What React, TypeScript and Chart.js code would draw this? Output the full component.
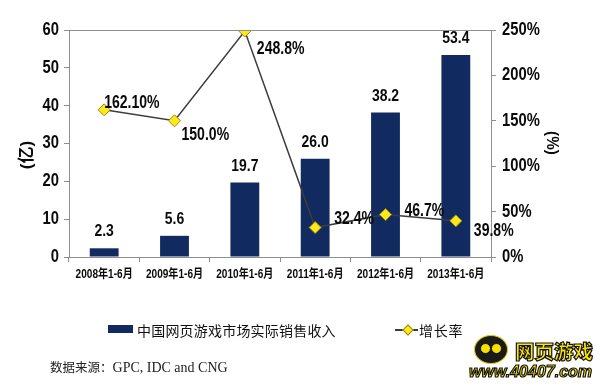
import React, { useEffect, useRef } from "react";
import { Chart, registerables } from "chart.js";

Chart.register(...registerables);

const categories = ["2008年1-6月", "2009年1-6月", "2010年1-6月", "2011年1-6月", "2012年1-6月", "2013年1-6月"];
const revenue = [2.3, 5.6, 19.7, 26.0, 38.2, 53.4];
const growth = [162.1, 150.0, 248.8, 32.4, 46.7, 39.8];
const growthLabels = ["162.10%", "150.0%", "248.8%", "32.4%", "46.7%", "39.8%"];
const revenueName = "中国网页游戏市场实际销售收入";
const growthName = "增长率";
const leftTitle = "(亿)";
const rightTitle = "(%)";
const sourceText = "数据来源：";
const sourceLatin = "GPC, IDC and CNG";
const logoCn = "网页游戏";
const logoUrl = "www.40407.com";

// label placement offsets (layout only)
const growthLabelOffsets = [
  [0, -7],
  [7, 14],
  [12, 18],
  [19, -9],
  [19, -4],
  [18, 10],
];

const NAVY = "#112a5f";
const AXIS = "#8e8e8e";
const SANS = "'Liberation Sans', Arial, 'Noto Sans CJK SC', sans-serif";
const SX = 0.82;

function narrowText(ctx: any, text: string, x: number, y: number, align: string, sx: number, rot = 0) {
  ctx.save();
  ctx.translate(x, y);
  if (rot) ctx.rotate(rot);
  ctx.scale(sx, 1);
  ctx.textAlign = align;
  ctx.textBaseline = "middle";
  ctx.fillText(text, 0, 0);
  ctx.restore();
}

const labelsPlugin = {
  id: "customLabels",
  afterDraw(chart: any) {
    const ctx = chart.ctx;
    const area = chart.chartArea;
    ctx.save();
    // top frame line
    ctx.strokeStyle = AXIS;
    ctx.lineWidth = 1;
    ctx.beginPath();
    ctx.moveTo(area.left, area.top + 0.5);
    ctx.lineTo(area.right, area.top + 0.5);
    ctx.stroke();

    ctx.fillStyle = "#0a0a0a";
    // tick labels
    const sy = chart.scales.y;
    ctx.font = `bold 18px ${SANS}`;
    sy.ticks.forEach((t: any) => {
      narrowText(ctx, String(t.value), 59, sy.getPixelForValue(t.value), "right", SX);
    });
    const sy1 = chart.scales.y1;
    sy1.ticks.forEach((t: any) => {
      narrowText(ctx, t.value + "%", 502, sy1.getPixelForValue(t.value), "left", SX);
    });
    const sxs = chart.scales.x;
    ctx.font = `bold 12px ${SANS}`;
    categories.forEach((c, i) => {
      narrowText(ctx, c, sxs.getPixelForValue(i), 274.5, "center", 0.84);
    });

    // bar labels
    const barMeta = chart.getDatasetMeta(1);
    ctx.font = `bold 17px ${SANS}`;
    barMeta.data.forEach((el: any, i: number) => {
      narrowText(ctx, revenue[i].toFixed(1), el.x, el.y - 16.5, "center", SX);
    });
    // line labels
    const lineMeta = chart.getDatasetMeta(0);
    ctx.font = `bold 18px ${SANS}`;
    lineMeta.data.forEach((el: any, i: number) => {
      const [dx, dy] = growthLabelOffsets[i];
      narrowText(ctx, growthLabels[i], el.x + dx, el.y + dy, "left", 0.78);
    });

    // axis titles
    ctx.font = `bold 17px ${SANS}`;
    narrowText(ctx, leftTitle, 27, 155, "center", 1, -Math.PI / 2);
    narrowText(ctx, rightTitle, 552, 143, "center", 0.9, Math.PI / 2);
    ctx.restore();
  },
};

export default function App() {
  const ref = useRef<HTMLCanvasElement>(null);
  useEffect(() => {
    document.body.style.margin = "0";
    const chart = new Chart(ref.current as HTMLCanvasElement, {
      type: "bar",
      data: {
        labels: categories,
        datasets: [
          {
            type: "line",
            label: growthName,
            data: growth,
            yAxisID: "y1",
            borderColor: "#3c3c3c",
            borderWidth: 1.5,
            pointStyle: "rectRot",
            pointRadius: 6,
            pointBackgroundColor: "#ffe81a",
            pointBorderColor: "#9a8a10",
            pointBorderWidth: 1,
            order: 0,
          } as any,
          {
            type: "bar",
            label: revenueName,
            data: revenue,
            yAxisID: "y",
            backgroundColor: NAVY,
            categoryPercentage: 1,
            barPercentage: 0.41,
            order: 1,
          },
        ],
      },
      options: {
        responsive: false,
        animation: false,
        devicePixelRatio: 1,
        layout: { padding: { top: 30, left: 0, right: 0, bottom: 0 } },
        plugins: { legend: { display: false }, tooltip: { enabled: false } },
        scales: {
          x: {
            offset: true,
            grid: { offset: true, drawOnChartArea: false, color: AXIS, tickLength: 5 },
            border: { color: AXIS },
            ticks: { display: false },
            afterFit: (s: any) => { s.height = 131; },
          },
          y: {
            position: "left",
            min: 0,
            max: 60,
            ticks: { stepSize: 10, display: false },
            grid: { drawOnChartArea: false, color: AXIS, tickLength: 5 },
            border: { color: AXIS },
            afterFit: (s: any) => { s.width = 69; },
          },
          y1: {
            position: "right",
            min: 0,
            max: 250,
            ticks: { stepSize: 50, display: false },
            grid: { drawOnChartArea: false, color: AXIS, tickLength: 5 },
            border: { color: AXIS },
            afterFit: (s: any) => { s.width = 109; },
          },
        },
      },
      plugins: [labelsPlugin],
    });
    return () => chart.destroy();
  }, []);

  const cjk = "'Noto Sans CJK SC', sans-serif";
  const logoText = {
    position: "absolute" as const,
    color: "#ffe600",
    WebkitTextStroke: "1.2px #111",
    whiteSpace: "nowrap" as const,
    transformOrigin: "left top",
  };
  return (
    <div style={{ position: "fixed", left: 0, top: 0, width: 600, height: 388, background: "#fff", overflow: "hidden" }}>
      <canvas ref={ref} width={600} height={388} style={{ display: "block" }} />
      <div style={{ position: "absolute", left: 108, top: 325, width: 25, height: 8, background: NAVY }} />
      <div style={{ position: "absolute", left: 137, top: 320, fontFamily: cjk, fontSize: 14, lineHeight: "20px", color: "#111", whiteSpace: "nowrap", letterSpacing: 0.2 }}>{revenueName}</div>
      <div style={{ position: "absolute", left: 395, top: 329, width: 23, height: 1.5, background: "#3c3c3c" }} />
      <div style={{ position: "absolute", left: 404, top: 326, width: 6, height: 6, background: "#ffe81a", border: "1px solid #9a8a10", transform: "rotate(45deg)" }} />
      <div style={{ position: "absolute", left: 419, top: 320, fontFamily: cjk, fontSize: 14, lineHeight: "20px", color: "#111", whiteSpace: "nowrap", letterSpacing: 0.8 }}>{growthName}</div>
      <div style={{ position: "absolute", left: 50, top: 358, color: "#222", whiteSpace: "nowrap", lineHeight: "18px" }}>
        <span style={{ fontFamily: cjk, fontSize: 12.5 }}>{sourceText}</span>
        <span style={{ fontFamily: "'Liberation Serif', serif", fontSize: 14 }}>{sourceLatin}</span>
      </div>
      <div style={{ position: "absolute", left: 474, top: 335, width: 32, height: 27, borderRadius: "50%", background: "#1a1a1a", border: "1.5px solid #e8c800" }} />
      <div style={{ position: "absolute", left: 480, top: 343, width: 9, height: 9, borderRadius: "50%", background: "#f5e000", border: "1px solid #111" }} />
      <div style={{ position: "absolute", left: 491, top: 343, width: 9, height: 9, borderRadius: "50%", background: "#f5e000", border: "1px solid #111" }} />
      <div style={{ ...logoText, left: 515, top: 339, fontFamily: cjk, fontWeight: 900, fontSize: 19.5, lineHeight: "24px" }}>{logoCn}</div>
      <div style={{ ...logoText, left: 469, top: 362, fontFamily: "'Liberation Sans', sans-serif", fontWeight: 700, fontStyle: "italic", fontSize: 16, lineHeight: "20px" }}>{logoUrl}</div>
    </div>
  );
}
